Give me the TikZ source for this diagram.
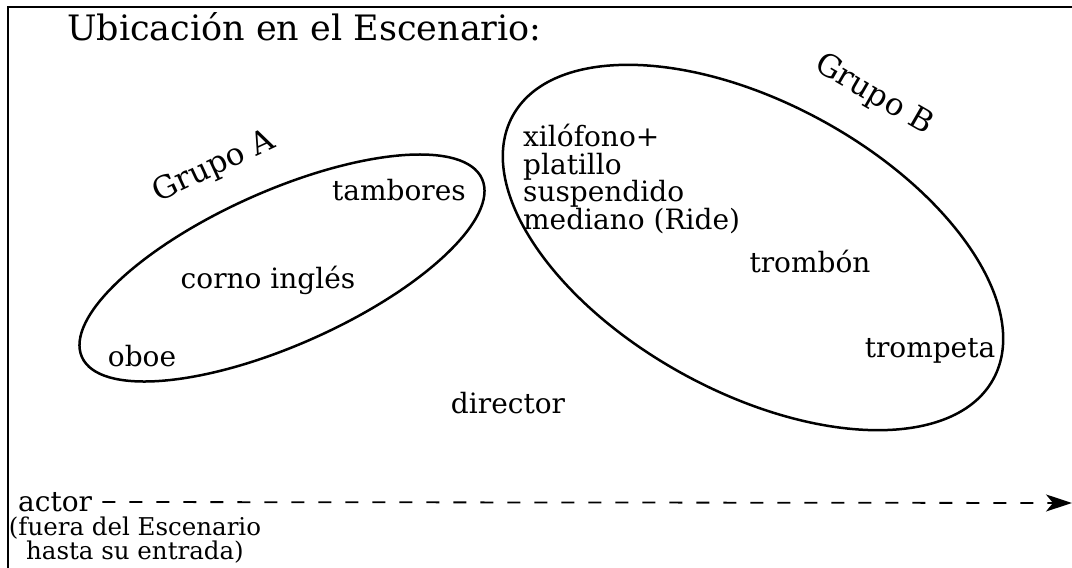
\documentclass[tikz,border=0pt]{standalone}
\usepackage{fontspec}
\setmainfont{DejaVu Serif}
\usetikzlibrary{arrows.meta,shapes.geometric}
\tikzset{
  body/.style={font=\fontsize{28}{27.5}\selectfont, inner sep=0pt},
  grouplabel/.style={font=\fontsize{31}{33}\selectfont, inner sep=0pt},
  small/.style={font=\fontsize{24.5}{24}\selectfont, inner sep=0pt, align=center},
  titlefont/.style={font=\fontsize{35}{38}\selectfont, inner sep=0pt},
  group/.style={ellipse, draw, line width=2.5pt, inner sep=0pt},
  frameline/.style={line width=2pt},
  entry/.style={dashed, dash pattern=on 13pt off 14pt, line width=1.8pt, -{Stealth[length=26pt,width=17pt,inset=7pt]}}
}
\begin{document}
\begin{tikzpicture}[x=1pt,y=-1pt]
\useasboundingbox (0,0) rectangle (1072,568);
\draw[frameline] (8,570) -- (8,7) -- (1074,7);
\node[titlefont, anchor=west] (title) at (67,27) {Ubicación en el Escenario:};
% Grupo A
\node[group, minimum width=438pt, minimum height=154pt, rotate=24] (grpA) at (282,268) {};
\node[grouplabel, rotate=25] (labA) at (214,167) {Grupo A};
\node[body] (tambores) at (399,190) {tambores};
\node[body] (corno) at (268,280) {corno inglés};
\node[body] (oboe) at (142,356) {oboe};
% Grupo B
\node[group, minimum width=548pt, minimum height=289pt, rotate=-28.7] (grpB) at (753,247.5) {};
\node[grouplabel, rotate=-30] (labB) at (874,95) {Grupo B};
\node[body, align=left, anchor=north west] (xilo) at (523,124) {xilófono+\\platillo\\suspendido\\mediano (Ride)};
\node[body] (trombon) at (810,261) {trombón};
\node[body] (trompeta) at (930,351) {trompeta};
% director
\node[body] (director) at (508,403) {director};
% actor
\node[body, anchor=west] (actor) at (18,502) {actor};
\node[small, anchor=north] (nota) at (135,517) {(fuera del Escenario\\hasta su entrada)};
\coordinate (salida) at (1072,503);
\draw[entry] ([xshift=10pt]actor.east) -- (salida);
\end{tikzpicture}
\end{document}
